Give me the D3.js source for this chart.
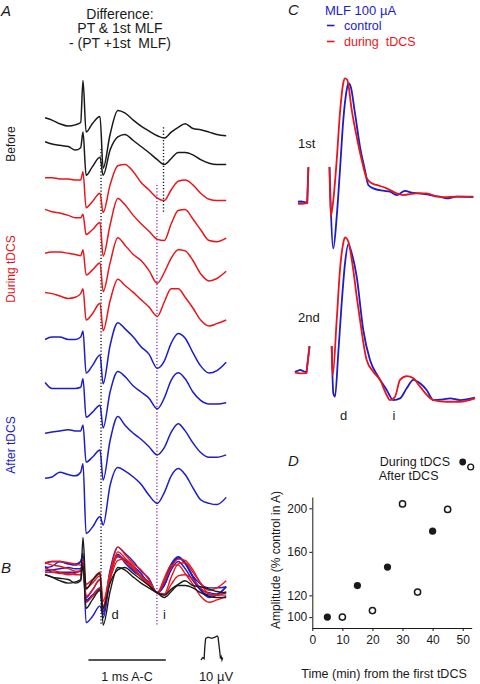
<!DOCTYPE html>
<html><head><meta charset="utf-8">
<script src="https://cdn.jsdelivr.net/npm/d3@7"></script>
<style>
body{margin:0;background:#fff;}
svg{display:block;font-family:"Liberation Sans",Arial,sans-serif;}
text{white-space:pre;}
</style></head><body>
<svg id="c" width="480" height="684"></svg>
<script>
// ================= DATA =================
// Panel A/B: time (ms) relative to first (PT) stimulus, amplitudes in µV
const timeA = [-0.49,-0.40,-0.30,-0.19,-0.10,-0.03,0,0.04,0.12,0.22,0.26,0.35,0.45,0.54,0.65,0.75,0.85,0.96,1.05,1.14,1.23,1.32,1.42,1.52,1.63,1.73,1.85];
const before1 = [0,-1,-2.5,-3.5,-3,-2,15.5,-6,-2.5,0.5,-21,-7,3,2,-1,-3.5,-5.5,-7.5,-8.5,-6,-4,-2.5,-4.5,-5,-6,-7,-7.5];
const before2 = [0,-1,-1.5,-2,-3.5,-2.5,4,-14,-10.5,-6.5,-14,-3.5,2,3,0.5,-2,-4.5,-7.5,-9.5,-7,-4.5,-4.5,-5.5,-7.5,-9,-9.5,-9.5];
const during1 = [0,0,-0.5,-0.5,-1,-1,2.5,-12.5,-10,-6.5,-14.5,-3,5,5.5,2.5,-2,-5,-8.5,-9.5,-5,-1.5,-1,-3,-6.5,-9,-9.5,-9.5];
const during2 = [0,-1,-1.5,-2.5,-3.5,-3.5,-2,-10.5,-8.5,-5.5,-19.5,-6.5,4.5,2,-2.5,-6,-9,-12.5,-13,-6,-0.5,0,-4,-8.5,-13,-13.5,-12];
const during3 = [0,0.5,0.5,0,-0.5,-1,1.5,-9,-7,-4,-16,-4,6.5,3.5,-0.5,-3,-7,-12.5,-8,-2,1.5,1,-3,-8.5,-11.5,-10.5,-7.5];
const during4 = [0,-0.5,-1.5,-2.5,-2,-0.5,1.5,-11.5,-9,-4.5,-16,-3.5,5.5,3,0,-3,-6,-10,-4,1.5,1.5,-2,-6.5,-11.5,-14,-13,-11.5];
const after1 = [0,1,1,0,0,1,3.5,-14,-11,-6.5,-18.5,-2.5,7,4.5,1,-3,-6,-12,-9,-1.5,2.5,0.5,-5.5,-11,-14,-13,-9.5];
const after2 = [0,-2.5,-2.5,-2.5,-2.5,-2,1.5,-14.5,-12.5,-9.5,-19,-4,4.5,2.5,-1.5,-4,-6.5,-11,-6.5,1,4,1.5,-4,-7.5,-9,-9,-8.5];
const after3 = [0,0.5,1,1.5,1,1,3.5,-12,-10,-7,-19.5,-3,7,3.5,0,-2.5,-5.5,-9,-6,0.5,4,1,-4,-8,-10,-10,-9];
const after4 = [0,0.5,2.5,1.5,1,2.5,6,-23,-20.5,-16,-19.5,-3,4.5,3,0.5,-2.5,-7,-10.5,-6,1,4,1.5,-4,-9,-10.5,-11,-8];
const groupNames = ["Before","During tDCS","After tDCS"];
const titleLines = ["Difference:","PT & 1st MLF","- (PT +1st  MLF)"];
// calibration pulse (ms from pulse onset, µV)
const calibT = [0,0.02,0.04,0.05,0.06,0.09,0.14,0.18,0.21,0.22,0.24,0.25,0.26,0.27,0.28];
const calibV = [0,1,0.5,6,9,9.5,9,9.5,10,9.5,4,1,1.5,0,1];
const timeBarMs = 1, voltBarUV = 10;

// Panel C: [ms, µV] pairs
const c1PreCtrl = [[-0.13,0.1],[-0.08,0.2],[-0.01,-0.3],[0.005,14.5]];
const c1PreTdcs = [[-0.13,-0.8],[-0.08,-0.8],[-0.01,-0.5],[0.005,14.5]];
const c1Ctrl = [[0.278,14.6],[0.327,-19.3],[0.371,-6.1],[0.413,13.3],[0.456,34.2],[0.5,46.7],[0.521,49.5],[0.552,48],[0.607,37],[0.672,23],[0.736,13.3],[0.779,7.1],[0.844,5.7],[0.973,4.7],[1.059,4.3],[1.146,2.9],[1.253,4.6],[1.34,3.9],[1.447,3.6],[1.576,2.9],[1.705,2.2],[1.792,1.5],[1.921,2.2],[2.136,2.0]];
const c1Tdcs = [[0.278,14.6],[0.293,-6.1],[0.327,0.8],[0.371,17.5],[0.413,37.1],[0.456,49.6],[0.478,51.5],[0.508,50.8],[0.565,38.3],[0.629,27.2],[0.694,17.5],[0.758,9.9],[0.823,7.8],[0.888,7.1],[1.017,5.7],[1.146,3.6],[1.231,2.9],[1.404,3.6],[1.534,3.6],[1.663,2.2],[1.748,2.0],[1.921,2.2],[2.136,2.2]];
const c2PreCtrl = [[-0.17,0.1],[-0.1,0.9],[-0.02,-0.2],[0.02,10.8]];
const c2PreTdcs = [[-0.17,-0.3],[-0.1,-0.6],[-0.02,-0.5],[0.02,10.8]];
const c2Ctrl = [[0.306,10.8],[0.327,-8.9],[0.349,-10.3],[0.391,7.8],[0.435,28.6],[0.478,45.3],[0.521,53.3],[0.565,49.5],[0.629,39.7],[0.714,17.5],[0.801,5.0],[0.908,-2.0],[1.017,-7.5],[1.102,-11.7],[1.189,-11.0],[1.275,-6.8],[1.361,-3.3],[1.447,-4.7],[1.533,-7.5],[1.619,-11.7],[1.748,-11.4],[1.835,-11.0],[1.964,-11.7],[2.158,-10.7]];
const c2Tdcs = [[0.306,10.8],[0.319,-1.3],[0.371,21.7],[0.413,42.5],[0.456,53.8],[0.478,56.1],[0.521,54.3],[0.585,42.5],[0.629,31.4],[0.672,21.7],[0.758,5.0],[0.844,0.1],[0.93,-3.3],[1.017,-9.6],[1.059,-11.7],[1.124,-10.3],[1.189,-3.3],[1.275,-1.7],[1.361,-2.6],[1.447,-6.1],[1.619,-11.7],[1.792,-12.4],[1.964,-12.4],[2.158,-11.0]];
const legendC = ["control","during  tDCS"];

// Panel D
const duringTime = [5,15,25,40];
const duringAmp = [100,129,146,179];
const afterTime = [10,20,30,35,45];
const afterAmp = [100,106,204,123,199];
const yTicksD = [100,120,160,200];
const xTicksD = [0,10,20,30,40,50];

// ================= LAYOUT / STYLE =================
const BLACK="#1a1a1a", RED="#e8161b", BLUE="#1c1cc8", PURPLE="#9a35c8";
const svg = d3.select("#c");
const PX_PER_UV = 2.4;
const xA = d3.scaleLinear().domain([0,1]).range([83,160.4]);
const yA = d3.scaleLinear().domain([0,-10]).range([117.7,117.7+10*PX_PER_UV]);
const stackUV = [0,-10,-25,-38.2,-56.5,-72.8,-92.4,-110.3,-131.5,-150.2];
const traces = [
 {v:before1,g:0},{v:before2,g:0},
 {v:during1,g:1},{v:during2,g:1},{v:during3,g:1},{v:during4,g:1},
 {v:after1,g:2},{v:after2,g:2},{v:after3,g:2},{v:after4,g:2}];
const gColor = [BLACK,RED,BLUE];

const gA = svg.append("g");
function vdot(t, y1, y2, col){
  gA.append("line").attr("x1",xA(t)).attr("x2",xA(t)).attr("y1",y1).attr("y2",y2)
    .attr("stroke",col).attr("stroke-width",1.4).attr("stroke-dasharray","1.2,2");
}
vdot(0.233, yA(-13), 625, BLACK);
vdot(1.04, yA(-4), yA(-39.5), BLACK);
vdot(0.955, yA(-28), 625, PURPLE);

traces.forEach((tr,k)=>{
  const line = d3.line().x((d,i)=>xA(timeA[i])).y(d=>yA(d+stackUV[k])).curve(d3.curveMonotoneX);
  gA.append("path").attr("d",line(tr.v)).attr("fill","none")
    .attr("stroke",gColor[tr.g]).attr("stroke-width",1.5).attr("stroke-linejoin","round");
});

const yB = d3.scaleLinear().domain([0,10]).range([592.7,592.7-10*PX_PER_UV]);
const iIdx = 17;
const orderB = [6,7,8,9,2,3,4,5,0,1];
orderB.forEach(k=>{
  const tr = traces[k], ref = tr.v[iIdx];
  const line = d3.line().x((d,i)=>xA(timeA[i])).y(d=>yB(d-ref)).curve(d3.curveMonotoneX);
  gA.append("path").attr("d",line(tr.v)).attr("fill","none")
    .attr("stroke",gColor[tr.g]).attr("stroke-width",1.4).attr("stroke-linejoin","round");
});

const barY = 660;
gA.append("line").attr("x1",xA(0.07)).attr("x2",xA(0.07+timeBarMs)).attr("y1",barY).attr("y2",barY)
  .attr("stroke",BLACK).attr("stroke-width",1.3);
const yCal = d3.scaleLinear().domain([0,voltBarUV]).range([barY,barY-voltBarUV*PX_PER_UV]);
gA.append("path").attr("d", d3.line().x((d,i)=>xA(1.525+calibT[i])).y(d=>yCal(d))(calibV))
  .attr("fill","none").attr("stroke",BLACK).attr("stroke-width",1.3);

function txt(x,y,s,opt={}){
  const t = svg.append("text").attr("x",x).attr("y",y).text(s)
    .attr("font-size",opt.size||12).attr("fill",opt.fill||BLACK)
    .attr("text-anchor",opt.anchor||"start");
  if(opt.italic) t.attr("font-style","italic");
  if(opt.weight) t.attr("font-weight",opt.weight);
  return t;
}
function rtxt(x,y,s,col){
  svg.append("text").attr("transform",`translate(${x},${y}) rotate(-90)`).text(s)
    .attr("font-size",12).attr("fill",col).attr("text-anchor","middle");
}
txt(1,16,"A",{size:15,italic:true});
titleLines.forEach((s,i)=>txt(120,18.5+i*14.5,s,{size:14,anchor:"middle"}));
rtxt(15,144,groupNames[0],BLACK);
rtxt(15,269,groupNames[1],RED);
rtxt(15,445,groupNames[2],BLUE);
txt(1,573,"B",{size:15,italic:true});
txt(115,619,"d",{size:13,anchor:"middle"});
txt(164.5,619,"i",{size:13,anchor:"middle"});
txt(127,681,"1 ms A-C",{size:12.5,anchor:"middle"});
txt(216,681,"10 µV",{size:13,anchor:"middle"});

const xC = d3.scaleLinear().domain([0,1]).range([308,385.4]);
const yC1 = d3.scaleLinear().domain([0,10]).range([202,202-10*PX_PER_UV]);
const yC2 = d3.scaleLinear().domain([0,10]).range([372,372-10*PX_PER_UV]);
function cPath(data,ys,col,curve){
  const line = d3.line().x(d=>xC(d[0])).y(d=>ys(d[1])).curve(curve);
  svg.append("path").attr("d",line(data)).attr("fill","none").attr("stroke",col)
    .attr("stroke-width",1.8).attr("stroke-linejoin","round");
}
cPath(c1PreCtrl,yC1,BLUE,d3.curveLinear);
cPath(c1PreTdcs,yC1,RED,d3.curveLinear);
cPath(c1Ctrl,yC1,BLUE,d3.curveMonotoneX);
cPath(c1Tdcs,yC1,RED,d3.curveMonotoneX);
cPath(c2PreCtrl,yC2,BLUE,d3.curveLinear);
cPath(c2PreTdcs,yC2,RED,d3.curveLinear);
cPath(c2Ctrl,yC2,BLUE,d3.curveMonotoneX);
cPath(c2Tdcs,yC2,RED,d3.curveMonotoneX);

txt(288,15,"C",{size:15,italic:true});
txt(325,14.5,"MLF 100 µA",{size:13,fill:BLUE});
[[BLUE,25.5,30],[RED,41.5,46]].forEach((r,i)=>{
  svg.append("line").attr("x1",327).attr("x2",334.5).attr("y1",r[1]).attr("y2",r[1])
    .attr("stroke",r[0]).attr("stroke-width",1.6);
  txt(344,r[2],legendC[i],{size:12.5,fill:r[0]});
});
txt(298,148,"1st",{size:13});
txt(298,321.5,"2nd",{size:13});
txt(343.5,420,"d",{size:13,anchor:"middle"});
txt(394,420,"i",{size:13,anchor:"middle"});

const xD = d3.scaleLinear().domain([0,53]).range([312.3,471.7]);
const yD = d3.scaleLinear().domain([90,210.4]).range([628,497]);
const gD = svg.append("g");
gD.append("g").attr("transform","translate(0,628)")
  .call(d3.axisBottom(xD).tickValues(xTicksD).tickSizeInner(3).tickSizeOuter(0).tickPadding(4))
  .call(g=>{g.selectAll("text").attr("font-size",12).attr("fill",BLACK).attr("font-family",null);
            g.selectAll("line,path").attr("stroke",BLACK);});
gD.append("g").attr("transform","translate(312.3,0)")
  .call(d3.axisLeft(yD).tickValues(yTicksD).tickSizeInner(3).tickSizeOuter(0).tickPadding(2))
  .call(g=>{g.selectAll("text").attr("font-size",12).attr("fill",BLACK).attr("font-family",null);
            g.selectAll("line,path").attr("stroke",BLACK);});
gD.selectAll(".dur").data(duringTime).enter().append("circle")
  .attr("cx",d=>xD(d)).attr("cy",(d,i)=>yD(duringAmp[i])).attr("r",3.6).attr("fill",BLACK);
gD.selectAll(".aft").data(afterTime).enter().append("circle")
  .attr("cx",d=>xD(d)).attr("cy",(d,i)=>yD(afterAmp[i])).attr("r",3.1)
  .attr("fill","#fff").attr("stroke",BLACK).attr("stroke-width",1.5);
txt(288,466,"D",{size:15,italic:true});
txt(450,466,"During tDCS",{size:12.5,anchor:"end"});
txt(438.5,480,"After tDCS",{size:12.5,anchor:"end"});
gD.append("circle").attr("cx",462.7).attr("cy",462).attr("r",3.4).attr("fill",BLACK);
gD.append("circle").attr("cx",470.7).attr("cy",467).attr("r",2.9).attr("fill","#fff")
  .attr("stroke",BLACK).attr("stroke-width",1.4);
txt(384,678,"Time (min) from the first tDCS",{size:12.5,anchor:"middle"});
svg.append("text").attr("transform","translate(280,560) rotate(-90)")
  .text("Amplitude (% control in A)").attr("font-size",12).attr("fill",BLACK).attr("text-anchor","middle");
</script>
</body></html>
